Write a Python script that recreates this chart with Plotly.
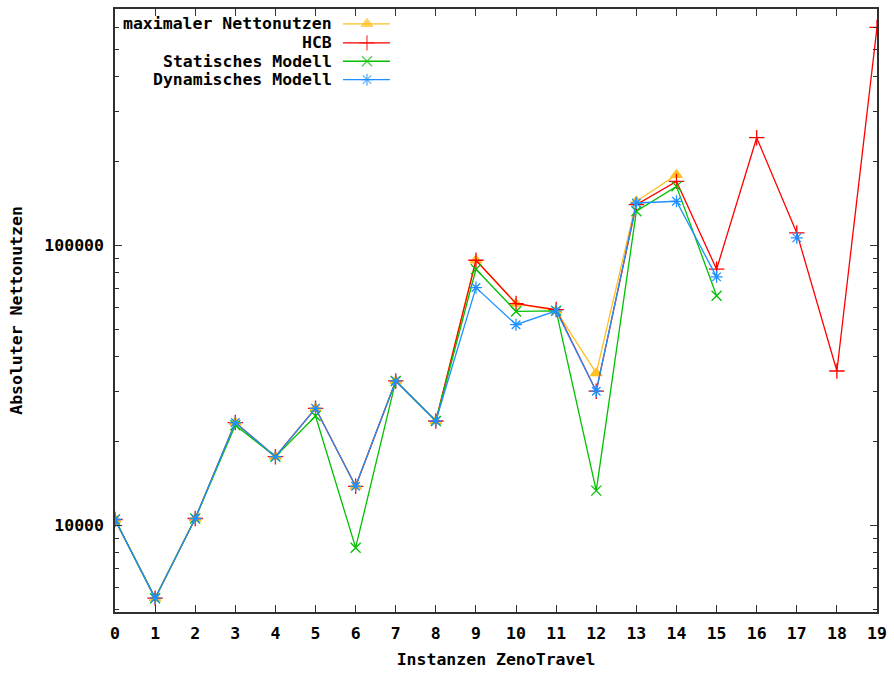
import plotly.graph_objects as go

# Instances 0..19 of the ZenoTravel domain
instances = list(range(20))

# Absolute net benefit per instance (None = no result)
max_netto = [10500, 5500, 10590, 23300, 17600, 26200, 13800, 32800, 23600, 88500,
             62000, 58500, 35000, 143700, 178600]
hcb = [10500, 5500, 10590, 23300, 17600, 26200, 13800, 32800, 23600, 88500,
       62000, 59000, 30150, 139800, 169200, 82200, 242400, 110800, 35600, 600300]
statisch = [10500, 5500, 10590, 22800, 17600, 24600, 8330, 32800, 23600, 82200,
            58100, 58400, 13320, 132400, 162400, 66100]
dynamisch = [10500, 5500, 10590, 23300, 17600, 26200, 13800, 32800, 23600, 70700,
             52100, 58400, 30150, 141700, 143700, 77200, None, 106400]

series_names = ["maximaler Nettonutzen", "HCB", "Statisches Modell", "Dynamisches Modell"]
series_values = [max_netto, hcb, statisch, dynamisch]
colors = ["#ffc020", "#ff0000", "#00c000", "#1e90ff"]
symbols = ["triangle-up", "cross-thin-open", "x-thin-open", "asterisk-open"]
sizes = [10, 11, 10, 10]

FONT = dict(family="DejaVu Sans Mono", size=16.5, color="black")
AXIS_COLOR = "#303030"

# plot area in pixels
W, H = 894, 673
L, R, T, B = 115, 17, 7, 60
PW, PH = W - L - R, H - T - B

fig = go.Figure()

for name, vals, col, sym, sz in zip(series_names, series_values, colors, symbols, sizes):
    marker = dict(symbol=sym, size=sz, color=col, line=dict(color=col, width=1.3))
    fig.add_trace(go.Scatter(
        x=instances[:len(vals)], y=vals, mode="lines+markers", name=name,
        line=dict(color=col, width=1.3), marker=marker, connectgaps=False,
        showlegend=False,
    ))

# key in the upper left corner: right-aligned labels, sample line with marker
key_text_right = 219
key_line = [228, 252, 275]
key_rows = [15.0, 34.0, 52.5, 71.0]
for name, col, sym, sz, row in zip(series_names, colors, symbols, sizes, key_rows):
    fig.add_trace(go.Scatter(
        x=key_line, y=[row] * 3, xaxis="x2", yaxis="y2", mode="lines+markers",
        line=dict(color=col, width=1.3),
        marker=dict(symbol=sym, size=[0, sz, 0], color=col, line=dict(color=col, width=1.3)),
        showlegend=False, hoverinfo="skip",
    ))
    fig.add_annotation(
        x=key_text_right, y=row, xref="x2", yref="y2", text="<b>%s</b>" % name,
        showarrow=False, xanchor="right", yanchor="middle", font=FONT,
    )

ymin, ymax = 3.691, 5.844

fig.update_layout(
    width=W, height=H,
    margin=dict(l=L, r=R, t=T, b=B),
    paper_bgcolor="white", plot_bgcolor="white",
    font=FONT,
    xaxis=dict(
        range=[0, 19], tickmode="array", tickvals=instances,
        ticktext=["<b>%d</b>" % i for i in instances],
        ticks="inside", ticklen=7, tickcolor=AXIS_COLOR, tickwidth=1,
        showline=True, linecolor=AXIS_COLOR, linewidth=1.5, mirror="ticks",
        showgrid=False, zeroline=False, ticklabelstandoff=5,
        title=dict(text="<b>Instanzen ZenoTravel</b>", font=FONT, standoff=12),
    ),
    yaxis=dict(
        type="log", range=[ymin, ymax],
        tickmode="array", tickvals=[10000, 100000],
        ticktext=["<b>10000</b>", "<b>100000</b>"],
        ticks="inside", ticklen=7, tickcolor=AXIS_COLOR, tickwidth=1,
        minor=dict(ticks="inside", ticklen=4, tickcolor=AXIS_COLOR, dtick="D1", showgrid=False),
        showline=True, linecolor=AXIS_COLOR, linewidth=1.5, mirror="ticks",
        showgrid=False, zeroline=False, ticklabelstandoff=6,
        title=dict(text="<b>Absoluter Nettonutzen</b>", font=FONT, standoff=18),
    ),
    xaxis2=dict(overlaying="x", range=[0, PW], visible=False, anchor="y2"),
    yaxis2=dict(overlaying="y", range=[PH, 0], visible=False, anchor="x2"),
)

fig.write_html("out.html")
